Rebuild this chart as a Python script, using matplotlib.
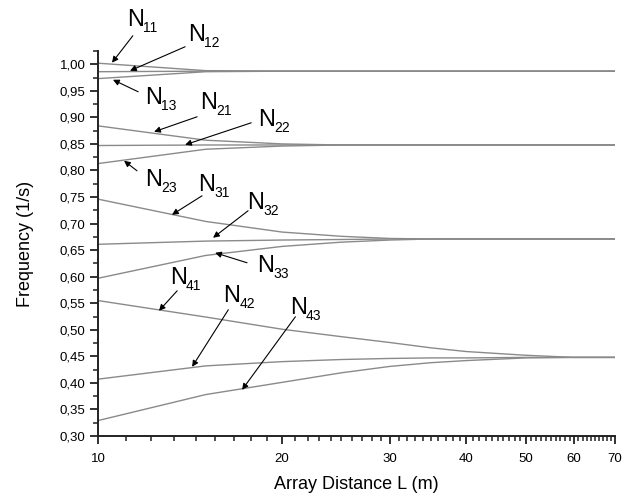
import matplotlib
matplotlib.use("Agg")
import matplotlib.pyplot as plt
from matplotlib.ticker import FixedLocator, FuncFormatter, MultipleLocator, NullFormatter

plt.rcParams["font.family"] = ["Liberation Sans", "DejaVu Sans"]

# array distance L (m)
x_vals = [10, 15, 20, 25, 30, 35, 40, 50, 60, 70]

# frequencies (1/s) of each mode
N11 = [1.002, 0.988, 0.987, 0.987, 0.987, 0.987, 0.987, 0.987, 0.987, 0.987]
N12 = [0.986, 0.987, 0.987, 0.987, 0.987, 0.987, 0.987, 0.987, 0.987, 0.987]
N13 = [0.973, 0.986, 0.987, 0.987, 0.987, 0.987, 0.987, 0.987, 0.987, 0.987]
N21 = [0.884, 0.857, 0.850, 0.848, 0.848, 0.848, 0.848, 0.848, 0.848, 0.848]
N22 = [0.847, 0.848, 0.848, 0.848, 0.848, 0.848, 0.848, 0.848, 0.848, 0.848]
N23 = [0.813, 0.840, 0.846, 0.848, 0.848, 0.848, 0.848, 0.848, 0.848, 0.848]
N31 = [0.746, 0.704, 0.684, 0.676, 0.672, 0.671, 0.671, 0.671, 0.671, 0.671]
N32 = [0.661, 0.667, 0.669, 0.670, 0.671, 0.671, 0.671, 0.671, 0.671, 0.671]
N33 = [0.597, 0.640, 0.657, 0.665, 0.669, 0.671, 0.671, 0.671, 0.671, 0.671]
N41 = [0.555, 0.524, 0.501, 0.487, 0.476, 0.466, 0.459, 0.452, 0.448, 0.448]
N42 = [0.407, 0.432, 0.440, 0.444, 0.446, 0.447, 0.447, 0.448, 0.448, 0.448]
N43 = [0.329, 0.378, 0.401, 0.419, 0.431, 0.438, 0.442, 0.447, 0.448, 0.448]

series = [N11, N12, N13, N21, N22, N23, N31, N32, N33, N41, N42, N43]
names = ["11", "12", "13", "21", "22", "23", "31", "32", "33", "41", "42", "43"]

# label placement: text (left, baseline), arrow tail, arrow head (data coords)
text_pos = [(11.16, 1.0725), (14.04, 1.0443), (11.94, 0.9256), (14.68, 0.9162),
            (18.29, 0.8842), (11.94, 0.7712), (14.57, 0.7618), (17.52, 0.7279),
            (18.20, 0.6092), (13.11, 0.5866), (16.02, 0.5527), (20.59, 0.5301)]
arrow_tail = [(11.40, 1.0537), (13.88, 1.033), (11.63, 0.9482), (14.52, 0.9011),
              (17.80, 0.8898), (11.58, 0.7994), (14.79, 0.7523), (17.59, 0.7241),
              (17.52, 0.6262), (13.47, 0.5734), (16.33, 0.5377), (21.02, 0.5245)]
arrow_head = [(10.54, 1.003), (11.28, 0.9878), (10.58, 0.9708), (12.35, 0.8729),
              (13.88, 0.8484), (11.03, 0.8183), (13.21, 0.7166), (15.42, 0.6733),
              (15.54, 0.6450), (12.58, 0.5358), (14.25, 0.4303), (17.20, 0.3870)]

fig = plt.figure(figsize=(6.3, 4.99), dpi=100)
ax = fig.add_axes([0.1556, 0.1263, 0.8206, 0.7715])

for ys in series:
    ax.plot(x_vals, ys, color="#8a8a8a", lw=1.0)

for name, tp, tail, head in zip(names, text_pos, arrow_tail, arrow_head):
    ax.text(tp[0], tp[1], "N", fontsize=17, ha="left", va="baseline", clip_on=False)
    # subscript, drawn as its own text so it can sit low like the original
    ax.annotate(name, xy=tp, xytext=(11.5, -4.5), textcoords="offset points",
                fontsize=10, ha="left", va="baseline", annotation_clip=False)
    ax.annotate("", xy=head, xytext=tail, annotation_clip=False,
                arrowprops=dict(arrowstyle="-|>", color="black", lw=0.8,
                                mutation_scale=9, shrinkA=0, shrinkB=0))

ax.set_xscale("log")
ax.set_xlim(10, 70)
ax.set_ylim(0.30, 1.025)
ax.xaxis.set_major_locator(FixedLocator([10, 20, 30, 40, 50, 60, 70]))
ax.xaxis.set_major_formatter(FuncFormatter(lambda v, p: "%d" % round(v)))
minor = [10 + 10 * k / 9 for k in range(1, 9)] + [m for m in range(21, 70) if m % 10]
ax.xaxis.set_minor_locator(FixedLocator(minor))
ax.xaxis.set_minor_formatter(NullFormatter())
ax.yaxis.set_major_locator(MultipleLocator(0.05))
ax.yaxis.set_minor_locator(MultipleLocator(0.025))
ax.yaxis.set_major_formatter(FuncFormatter(lambda v, p: ("%.2f" % v).replace(".", ",")))

for s in ["top", "right"]:
    ax.spines[s].set_visible(False)
for s in ["left", "bottom"]:
    ax.spines[s].set_linewidth(1.4)
    ax.spines[s].set_color("#222222")
ax.tick_params(which="major", length=6, width=1.3, labelsize=9.5, color="#222222")
ax.tick_params(axis="y", which="major", pad=3)
ax.tick_params(axis="x", which="major", pad=6)
ax.tick_params(which="minor", length=3.5, width=1.1, color="#222222")

ax.set_xlabel("Array Distance L (m)", fontsize=13)
ax.set_ylabel("Frequency (1/s)", fontsize=13)
ax.xaxis.set_label_coords(0.5, -0.103)
ax.yaxis.set_label_coords(-0.123, 0.5)

fig.savefig("out.png", dpi=100)
